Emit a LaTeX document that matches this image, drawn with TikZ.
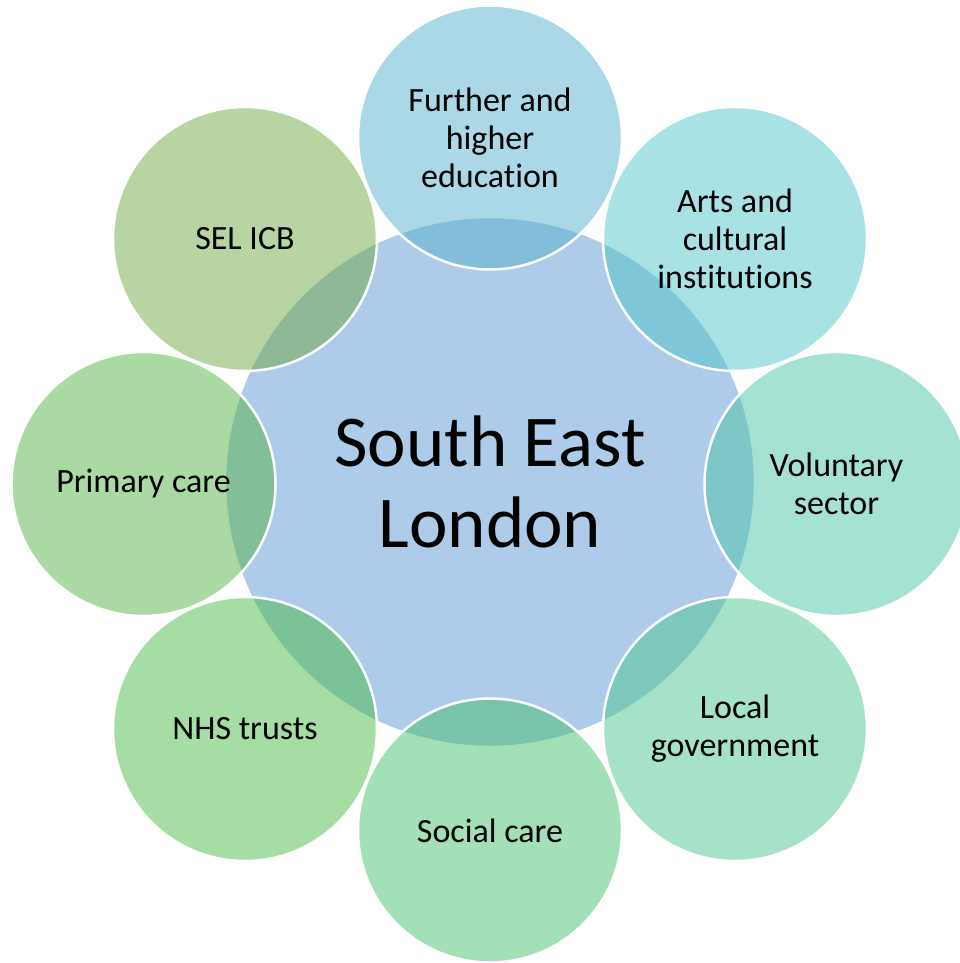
\documentclass[tikz,border=0pt]{standalone}
\usepackage{fontspec}
\setmainfont{Carlito}[Ligatures={NoCommon}]
\definecolor{ccentral}{RGB}{174,203,233}
\definecolor{cfhe}{RGB}{87,177,205}
\definecolor{carts}{RGB}{81,197,201}
\definecolor{cvol}{RGB}{77,197,169}
\definecolor{clocal}{RGB}{77,197,145}
\definecolor{csocial}{RGB}{71,191,111}
\definecolor{cnhs}{RGB}{75,187,75}
\definecolor{cprimary}{RGB}{87,179,71}
\definecolor{cicb}{RGB}{113,169,69}
\tikzset{
  hub/.style={circle, minimum size=530pt, inner sep=0pt, fill=ccentral, draw=white, line width=2.5pt,
    align=center, font=\fontsize{73}{81}\selectfont},
  petal/.style={circle, minimum size=264pt, inner sep=0pt, fill opacity=0.5, text opacity=1,
    draw=white, line width=2.5pt, align=center, font=\fontsize{34}{38}\selectfont}
}
\begin{document}
\begin{tikzpicture}[x=1pt,y=-1pt]
\useasboundingbox (0,0) rectangle (960,963);
\clip (0,0) rectangle (960,963);
\node[hub] (c) at (490,482) {South East\\London};
\begin{scope}[shift={(490,484)}]
\node[petal, fill=cfhe] (fhe) at (-90:346.5) {Further and\\higher\\education};
\node[petal, fill=carts] (arts) at (-45:346.5) {Arts and\\cultural\\institutions};
\node[petal, fill=cvol] (vol) at (0:346.5) {Voluntary\\sector};
\node[petal, fill=clocal] (loc) at (45:346.5) {Local\\government};
\node[petal, fill=csocial] (soc) at (90:346.5) {Social care};
\node[petal, fill=cnhs] (nhs) at (135:346.5) {NHS trusts};
\node[petal, fill=cprimary] (pri) at (180:346.5) {Primary care};
\node[petal, fill=cicb] (icb) at (225:346.5) {SEL ICB};
\end{scope}
\end{tikzpicture}
\end{document}
